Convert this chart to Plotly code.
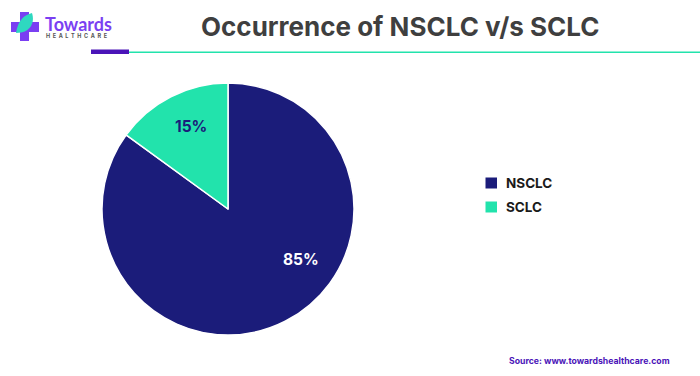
import plotly.graph_objects as go

W, H = 700, 376
categories = ["NSCLC", "SCLC"]
values = [85, 15]
colors = ["#1B1C7A", "#22E3AC"]
label_text = ["85%", "15%"]
label_colors = ["#FFFFFF", "#1B1C7A"]
label_pos = [(301, 259), (191, 127)]
legend_y = [183, 207]

def px(x): return x / W
def py(y): return 1 - y / H

fig = go.Figure(go.Pie(
    labels=categories, values=values, textinfo="none",
    marker=dict(colors=colors, line=dict(color="#FFFFFF", width=1.5)),
    sort=False, direction="clockwise", rotation=0, hoverinfo="label+percent",
    domain=dict(x=[px(102), px(354)], y=[py(335), py(83)]),
))

shapes = [
    dict(type="rect", xref="paper", yref="paper", x0=px(129), x1=px(700), y0=py(53), y1=py(51.5),
         fillcolor="#22E3AC", line_width=0),
    dict(type="rect", xref="paper", yref="paper", x0=px(91), x1=px(129), y0=py(54), y1=py(49.5),
         fillcolor="#4A14B8", line_width=0),
    dict(type="rect", xref="paper", yref="paper", x0=px(20), x1=px(29), y0=py(41), y1=py(12),
         fillcolor="#7A3FF2", line_width=0),
    dict(type="rect", xref="paper", yref="paper", x0=px(11), x1=px(39), y0=py(32), y1=py(22),
         fillcolor="#7A3FF2", line_width=0),
    dict(type="path", xref="paper", yref="paper",
         path=f"M {px(16)} {py(33)} C {px(18)} {py(20)}, {px(24)} {py(15)}, {px(32)} {py(13)} "
              f"C {px(35)} {py(22)}, {px(31)} {py(33)}, {px(16)} {py(33)} Z",
         fillcolor="#2FD8C0", line_width=0),
]
for c, y in zip(colors, legend_y):
    shapes.append(dict(type="rect", xref="paper", yref="paper", x0=px(485.5), x1=px(497),
                       y0=py(y + 5.5), y1=py(y - 5.5), fillcolor=c, line_width=0))

annotations = [
    dict(text="<b>Occurrence of NSCLC v/s SCLC</b>", x=px(400), y=py(26), xanchor="center", yanchor="middle",
         font=dict(family="Inter, Roboto, sans-serif", size=26, color="#3F3F3F")),
    dict(text="<b>Source: www.towardshealthcare.com</b>", x=px(672), y=py(361), xanchor="right", yanchor="middle",
         font=dict(family="Inter, Roboto, sans-serif", size=8.7, color="#4A14B8")),
    dict(text="Towards", x=px(42.5), y=py(23.5), xanchor="left", yanchor="middle",
         font=dict(family="Lato, sans-serif", size=18, color="#7A3FF2", weight=700)),
    dict(text="\u00a0\u00a0".join("HEALTHCARE"), x=px(43.5), y=py(36), xanchor="left", yanchor="middle",
         font=dict(family="Inter, sans-serif", size=5.5, color="#555555", weight=700)),
]
for cat, y in zip(categories, legend_y):
    annotations.append(dict(text=cat, x=px(504), y=py(y), xanchor="left", yanchor="middle",
                            font=dict(family="Inter, Roboto, sans-serif", size=13.5, color="#1A1A1A", weight=700)))
for t, c, (x, y) in zip(label_text, label_colors, label_pos):
    annotations.append(dict(text=t, x=px(x), y=py(y), xanchor="center", yanchor="middle",
                            font=dict(family="Inter, Roboto, sans-serif", size=15.5, color=c, weight=700)))
for a in annotations:
    a.update(xref="paper", yref="paper", showarrow=False)

fig.update_layout(
    width=W, height=H, margin=dict(l=0, r=0, t=0, b=0),
    paper_bgcolor="#FFFFFF", plot_bgcolor="#FFFFFF",
    showlegend=False, shapes=shapes, annotations=annotations,
)
fig.write_html("out.html", config=dict(displayModeBar=False),
               post_script="document.body.style.margin='0';document.body.style.overflow='hidden';")
